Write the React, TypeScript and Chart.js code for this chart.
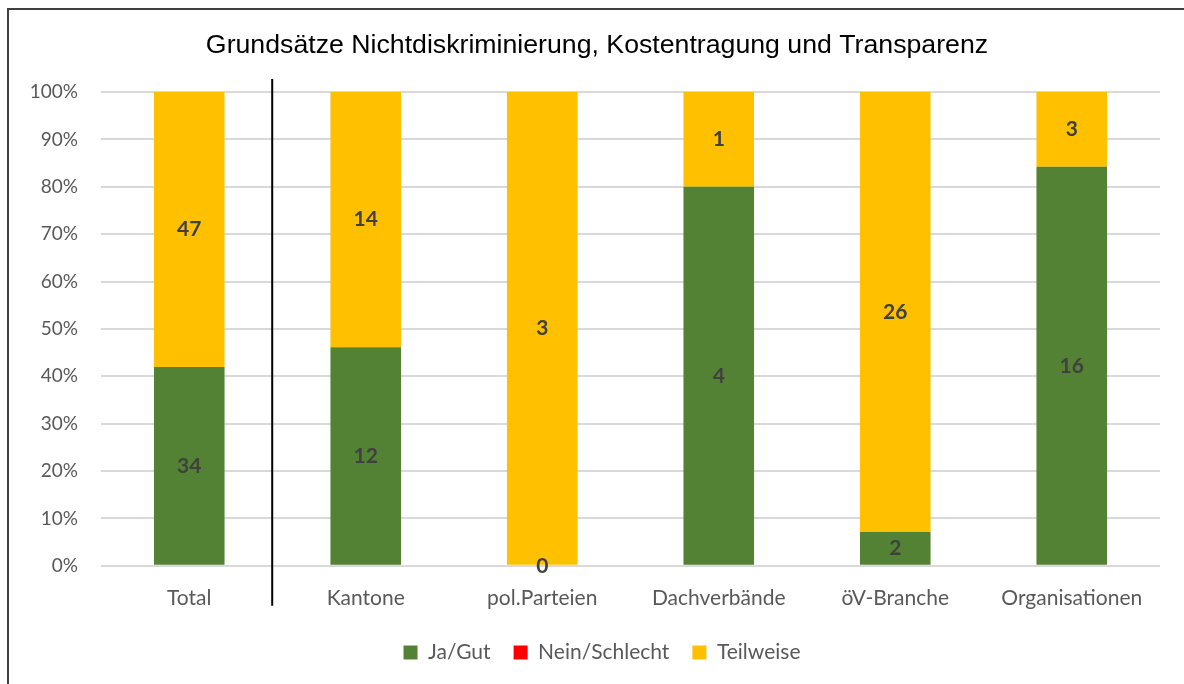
import React, { useEffect, useRef } from "react";
import { Chart, registerables } from "chart.js";

Chart.register(...registerables);

const categories = ["Total", "Kantone", "pol.Parteien", "Dachverbände", "öV-Branche", "Organisationen"];
const jaGut = [34, 12, 0, 4, 2, 16];
const neinSchlecht = [0, 0, 0, 0, 0, 0];
const teilweise = [47, 14, 3, 1, 26, 3];
const yTicks = [0, 10, 20, 30, 40, 50, 60, 70, 80, 90, 100];
const title = "Grundsätze Nichtdiskriminierung, Kostentragung und Transparenz";

const totals = categories.map((_, i) => jaGut[i] + neinSchlecht[i] + teilweise[i]);
const pct = (arr: number[]) => arr.map((v, i) => (totals[i] ? (v / totals[i]) * 100 : 0));

const FONT = "Lato, 'Open Sans', sans-serif";

const framePlugin = {
  id: "frame",
  beforeDraw(chart: any) {
    const ctx = chart.ctx;
    ctx.save();
    ctx.fillStyle = "#ffffff";
    ctx.fillRect(0, 0, chart.width, chart.height);
    ctx.strokeStyle = "#404040";
    ctx.lineWidth = 2;
    ctx.beginPath();
    ctx.moveTo(8, chart.height + 5);
    ctx.lineTo(8, 9);
    ctx.lineTo(chart.width + 5, 9);
    ctx.stroke();
    ctx.restore();
  },
};

const shiftPlugin = {
  id: "shiftBoxes",
  afterLayout(chart: any) {
    if (chart.titleBlock) {
      chart.titleBlock.left += 17;
      chart.titleBlock.right += 17;
    }
    if (chart.legend) {
      chart.legend.left += 22;
      chart.legend.right += 22;
    }
  },
};

const separatorPlugin = {
  id: "separator",
  afterDatasetsDraw(chart: any) {
    const x0 = chart.scales.x.getPixelForValue(0);
    const x1 = chart.scales.x.getPixelForValue(1);
    const x = x0 + (x1 - x0) * 0.47;
    const { top, bottom } = chart.chartArea;
    const ctx = chart.ctx;
    ctx.save();
    ctx.strokeStyle = "#000000";
    ctx.lineWidth = 2;
    ctx.beginPath();
    ctx.moveTo(x, top - 13);
    ctx.lineTo(x, bottom + 40);
    ctx.stroke();
    ctx.restore();
  },
};

const labelPlugin = {
  id: "valueLabels",
  afterDatasetsDraw(chart: any) {
    const ctx = chart.ctx;
    ctx.save();
    ctx.font = `bold 21px ${FONT}`;
    ctx.fillStyle = "#404040";
    ctx.textAlign = "center";
    ctx.textBaseline = "middle";
    chart.data.datasets.forEach((ds: any, di: number) => {
      if (!ds.counts || ds.hideLabels) return;
      const meta = chart.getDatasetMeta(di);
      meta.data.forEach((bar: any, i: number) => {
        const y = (bar.y + bar.base) / 2;
        ctx.fillText(String(ds.counts[i]), bar.x, y);
      });
    });
    ctx.restore();
  },
};

export default function App() {
  const ref = useRef<HTMLCanvasElement | null>(null);
  useEffect(() => {
    document.body.style.margin = "0";
    const canvas = ref.current!;
    const chart = new Chart(canvas, {
      type: "bar",
      data: {
        labels: categories,
        datasets: [
          { label: "Ja/Gut", data: pct(jaGut), counts: jaGut, backgroundColor: "#548235", barPercentage: 0.4, categoryPercentage: 1 } as any,
          { label: "Nein/Schlecht", data: pct(neinSchlecht), counts: neinSchlecht, hideLabels: true, backgroundColor: "#FF0000", barPercentage: 0.4, categoryPercentage: 1 } as any,
          { label: "Teilweise", data: pct(teilweise), counts: teilweise, backgroundColor: "#FFC000", barPercentage: 0.4, categoryPercentage: 1 } as any,
        ],
      },
      options: {
        responsive: false,
        animation: false,
        layout: { padding: { left: 0, right: 24, top: 0, bottom: 11 } },
        plugins: {
          title: {
            display: true,
            text: title,
            color: "#000000",
            font: { family: "'Liberation Sans', Arial, sans-serif", size: 26.7, weight: "normal" },
            padding: { top: 30, bottom: 30 },
          },
          legend: {
            position: "bottom",
            labels: {
              color: "#595959",
              font: { family: FONT, size: 21 },
              boxWidth: 14,
              boxHeight: 14,
              padding: 23,
            },
          },
          tooltip: { enabled: false },
        },
        scales: {
          x: {
            stacked: true,
            grid: { display: false },
            border: { display: false },
            afterFit(scale: any) {
              scale.height -= 4;
            },
            ticks: { color: "#595959", font: { family: FONT, size: 21 }, padding: 12 },
          },
          y: {
            stacked: true,
            min: 0,
            max: 100,
            afterFit(scale: any) {
              scale.width = 101;
            },
            afterBuildTicks(scale: any) {
              scale.ticks = yTicks.map((v) => ({ value: v }));
            },
            grid: { color: "#d9d9d9", lineWidth: 2, drawTicks: false },
            border: { display: false },
            ticks: {
              color: "#595959",
              font: { family: FONT, size: 19 },
              padding: 23,
              callback: (v: any) => `${v}%`,
            },
          },
        },
      } as any,
      plugins: [framePlugin, shiftPlugin, separatorPlugin, labelPlugin],
    });
    return () => chart.destroy();
  }, []);
  return <canvas ref={ref} width={1184} height={684} style={{ display: "block" }} />;
}
